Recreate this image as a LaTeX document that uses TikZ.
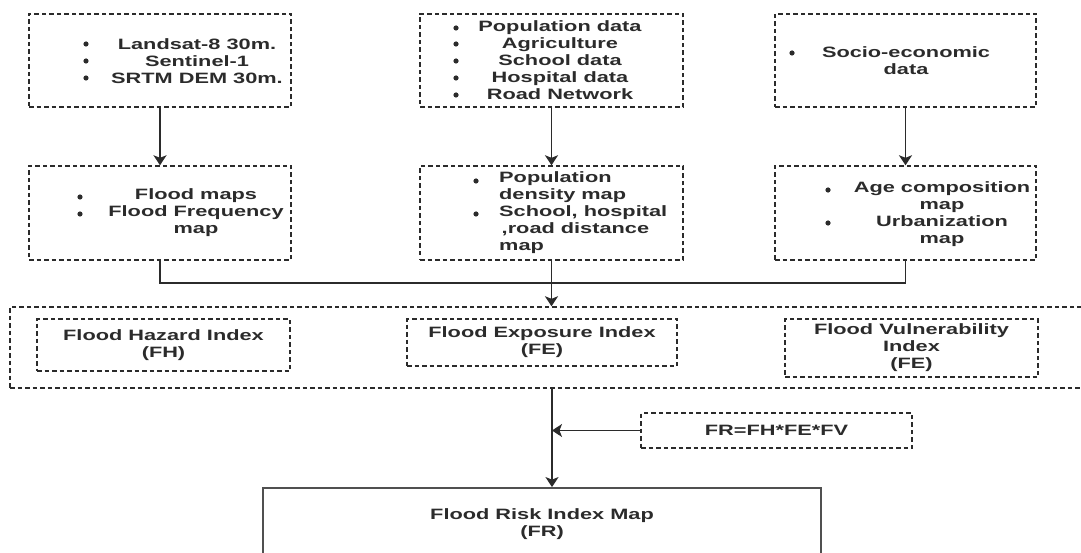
\documentclass[tikz,border=0pt]{standalone}
\usepackage{fontspec}
\setmainfont{Liberation Sans}[FakeStretch=1.45]
\usepackage{tikz}
\usetikzlibrary{arrows.meta}
\usepackage{xcolor}
\definecolor{ink}{HTML}{2B2B2B}
\definecolor{rim}{HTML}{505050}

\tikzset{
  dbox/.style={draw=ink, line width=1.4pt, dash pattern=on 4.5pt off 3pt},
  txt/.style={text=ink, inner sep=0pt, font=\fontsize{15}{17}\selectfont\bfseries},
  flow/.style={draw=ink, line width=1.8pt},
  arr/.style={flow, -{Stealth[length=10pt,width=13pt,inset=2.5pt]}}
}

\begin{document}
\begin{tikzpicture}[x=1pt,y=-1pt]
\useasboundingbox (0,0) rectangle (1081,553);
\clip (0,0) rectangle (1081,553);

% data sources
\node [dbox, minimum width=262, minimum height=93] (srcA) at (160,60.5) {};
\node [dbox, minimum width=263, minimum height=93] (srcB) at (551.5,60.5) {};
\node [dbox, minimum width=261, minimum height=93] (srcC) at (905.5,60.5) {};
\node [txt, align=center] (srcAtxt) at (197,61) {Landsat-8 30m.\\ Sentinel-1\\ SRTM DEM 30m.};
\node [txt, align=center] (srcBtxt) at (560,60.5) {Population data\\ Agriculture\\ School data\\ Hospital data\\ Road Network};
\node [txt, align=center] (srcCtxt) at (906,60.5) {Socio-economic\\ data};
\foreach \y in {44,61,78} \fill [ink] (86,\y) circle (2.6pt);
\foreach \y in {28,44,61,78,95} \fill [ink] (456,\y) circle (2.6pt);
\fill [ink] (792,53) circle (2.6pt);

% derived maps
\node [dbox, minimum width=262, minimum height=94] (mapA) at (160,213) {};
\node [dbox, minimum width=263, minimum height=94] (mapB) at (551.5,213) {};
\node [dbox, minimum width=261, minimum height=94] (mapC) at (905.5,213) {};
\node [txt, align=center] (mapAtxt) at (196,213) {Flood maps\\ Flood Frequency\\ map};
\node [txt, align=left, anchor=west] (mapBtxt) at (499,213) {Population\\ density map\\ School, hospital\\ \,,road distance\\ map};
\node [txt, align=center] (mapCtxt) at (942,214) {Age composition\\ map\\ Urbanization\\ map};
\foreach \y in {197,214} \fill [ink] (80,\y) circle (2.6pt);
\foreach \y in {181,214} \fill [ink] (476,\y) circle (2.6pt);
\foreach \y in {190,223} \fill [ink] (828,\y) circle (2.6pt);

% indices
\node [dbox, minimum width=1084, minimum height=81] (idx) at (552,347.5) {};
\node [dbox, txt, minimum width=253, minimum height=52, align=center] (fh) at (163.5,345) {Flood Hazard Index\\ (FH)};
\node [dbox, txt, minimum width=270, minimum height=47, align=center] (fe) at (542,342.5) {Flood Exposure Index\\ (FE)};
\node [dbox, txt, minimum width=253, minimum height=58, align=center] (fv) at (911.5,348) {Flood Vulnerability\\ Index\\ (FE)};

\node [dbox, txt, minimum width=271, minimum height=35] (frm) at (776.5,430.5) {FR=FH*FE*FV};
\node [draw=rim, line width=1.8pt, txt, minimum width=558, minimum height=72, align=center] (risk) at (542,524) {Flood Risk Index Map\\ (FR)};

\coordinate (join) at (551.5,283);

\draw [arr] (srcA) -- (mapA);
\draw [arr] (srcB) -- (mapB);
\draw [arr] (srcC) -- (mapC);
\draw [flow] (mapA.south) |- (join) -| (mapC.south);
\draw [flow] (mapB.south) -- (join);
\draw [arr] (join) -- (join |- idx.north);
\draw [arr] (idx.south) -- (idx.south |- risk.north);
\draw [arr, line width=1.4pt] (frm.west) -- (frm.west -| idx.south);

\end{tikzpicture}
\end{document}
